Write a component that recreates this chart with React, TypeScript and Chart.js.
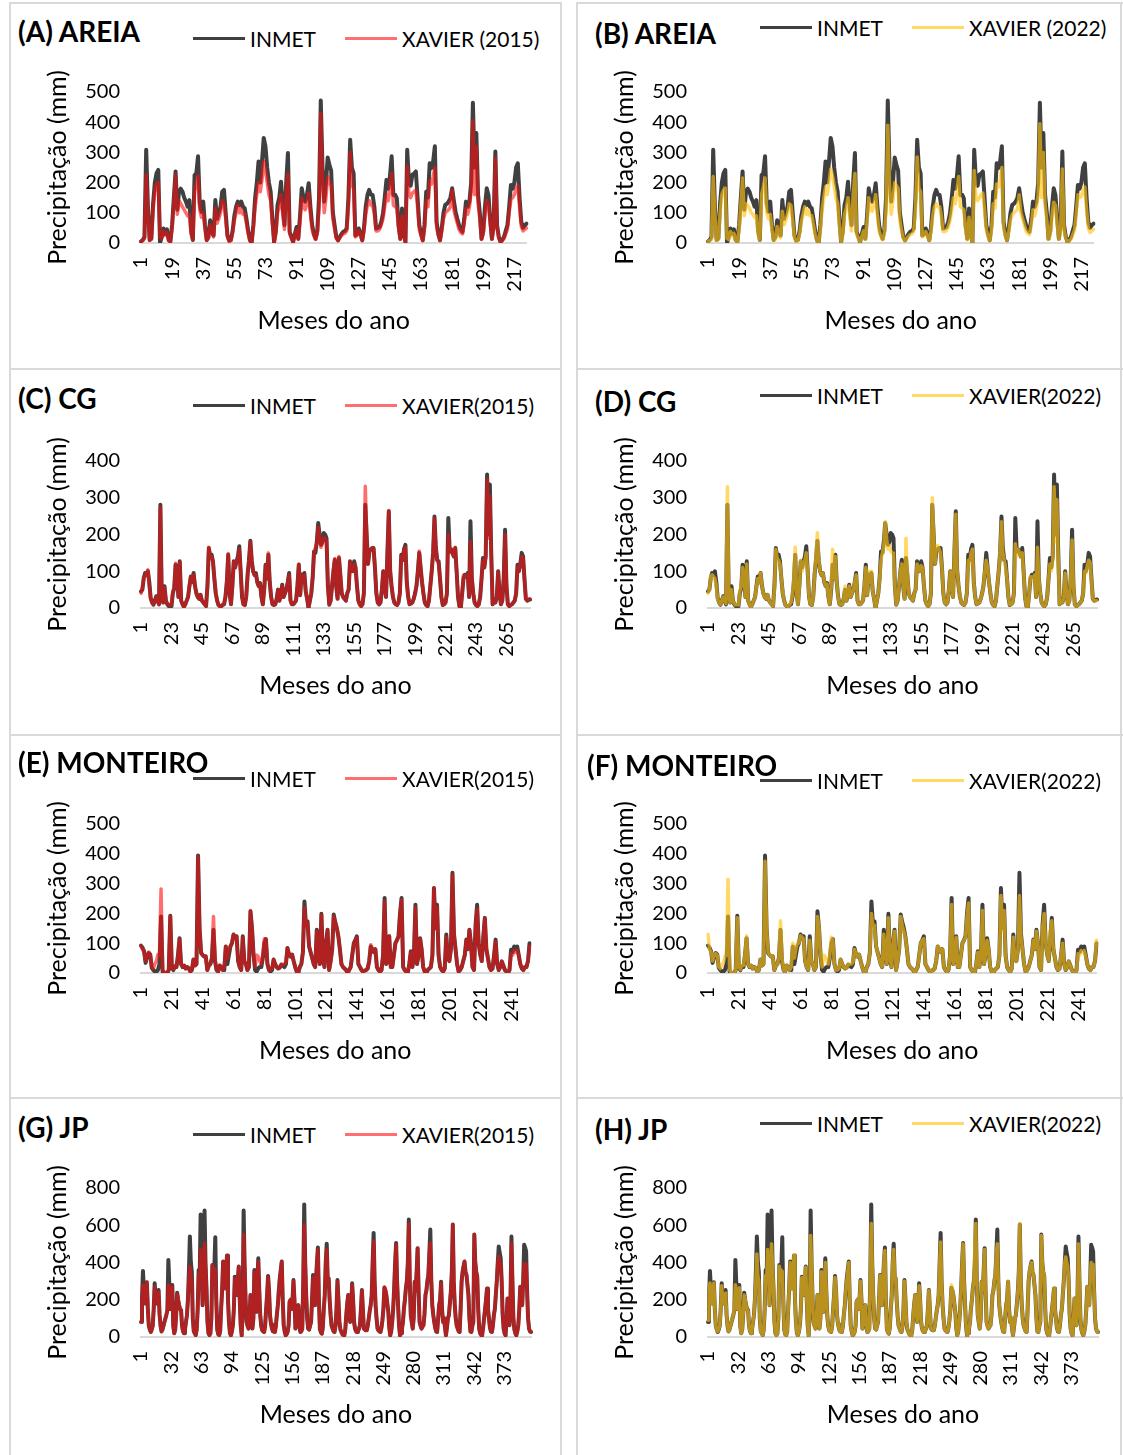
import { useEffect, useRef } from "react";
import { Chart, registerables } from "chart.js";

Chart.register(...registerables);

const FONT = "Lato, 'Open Sans', 'DejaVu Sans', sans-serif";

// ---------------- DATA (mm per month) ----------------
const areiaInmet = [
  5, 10, 20, 309, 120, 10, 15, 130, 200, 231, 242, 0,
  20, 48, 30, 45, 10, 5, 60, 150, 237, 110, 170, 180,
  170, 150, 137, 120, 142, 40, 10, 225, 231, 287, 130, 103,
  137, 60, 10, 20, 75, 40, 25, 142, 80, 100, 120, 170,
  176, 100, 25, 8, 10, 40, 90, 120, 137, 125, 137, 120,
  115, 80, 40, 10, 0, 60, 148, 200, 270, 200, 270, 348,
  320, 250, 200, 170, 80, 3, 40, 126, 150, 203, 120, 59,
  200, 298, 37, 20, 3, 30, 53, 14, 90, 181, 150, 137,
  160, 198, 120, 59, 30, 14, 40, 150, 472, 250, 137, 200,
  283, 259, 240, 100, 59, 20, 9, 20, 30, 37, 40, 48,
  150, 342, 250, 231, 25, 30, 48, 30, 9, 50, 120, 159,
  176, 160, 159, 120, 48, 50, 53, 70, 98, 150, 209, 180,
  220, 287, 159, 160, 148, 60, 14, 114, 30, 3, 309, 203,
  190, 226, 230, 237, 150, 59, 30, 9, 60, 170, 150, 264,
  248, 270, 320, 70, 30, 9, 50, 100, 126, 130, 137, 150,
  181, 140, 103, 80, 59, 45, 37, 80, 137, 120, 137, 200,
  464, 250, 364, 159, 100, 14, 40, 120, 181, 159, 80, 14,
  60, 303, 59, 20, 3, 10, 20, 40, 59, 120, 192, 180,
  200, 250, 264, 150, 70, 50, 59, 64,
];
const areiaXavier2015 = [
  5, 8, 15, 225, 100, 8, 12, 110, 170, 195, 200, 20,
  15, 40, 25, 35, 8, 5, 50, 130, 225, 95, 140, 130,
  120, 110, 100, 90, 95, 30, 10, 170, 195, 222, 110, 85,
  100, 50, 8, 15, 60, 30, 20, 115, 65, 80, 100, 140,
  130, 80, 20, 5, 8, 35, 75, 100, 125, 100, 115, 95,
  95, 65, 30, 8, 0, 50, 120, 160, 200, 170, 210, 270,
  240, 200, 160, 140, 65, 3, 30, 100, 120, 160, 95, 45,
  165, 228, 30, 15, 3, 25, 42, 12, 75, 150, 120, 110,
  130, 165, 95, 45, 25, 12, 30, 120, 430, 200, 100, 150,
  220, 200, 190, 80, 45, 15, 8, 18, 25, 30, 32, 40,
  120, 300, 190, 180, 20, 25, 40, 25, 8, 40, 95, 125,
  140, 125, 125, 95, 40, 40, 45, 60, 80, 120, 160, 140,
  180, 230, 125, 120, 115, 50, 12, 90, 25, 3, 255, 160,
  150, 165, 170, 175, 120, 45, 25, 8, 45, 140, 120, 205,
  195, 220, 250, 55, 25, 8, 40, 80, 100, 105, 110, 120,
  175, 110, 85, 65, 45, 35, 30, 65, 115, 95, 120, 170,
  405, 160, 320, 130, 80, 12, 30, 95, 140, 130, 65, 12,
  45, 280, 50, 15, 3, 8, 15, 30, 45, 100, 145, 150,
  160, 180, 190, 120, 55, 40, 45, 50,
];
const areiaXavier2022 = [
  5, 8, 12, 220, 95, 8, 12, 100, 160, 175, 182, 15,
  12, 38, 22, 32, 8, 5, 45, 125, 215, 90, 130, 125,
  115, 100, 95, 85, 90, 28, 10, 160, 185, 215, 100, 80,
  95, 45, 8, 12, 55, 28, 18, 105, 60, 75, 95, 130,
  125, 75, 18, 5, 8, 30, 70, 95, 120, 95, 110, 90,
  90, 60, 28, 8, 0, 45, 110, 150, 185, 160, 200, 245,
  225, 190, 150, 130, 60, 3, 28, 95, 115, 150, 90, 40,
  160, 230, 28, 15, 3, 22, 40, 12, 70, 150, 115, 105,
  125, 160, 90, 40, 22, 10, 28, 110, 390, 190, 95, 145,
  200, 190, 180, 75, 40, 15, 8, 15, 22, 28, 30, 38,
  110, 285, 180, 170, 20, 25, 38, 22, 8, 38, 90, 120,
  130, 120, 120, 90, 38, 38, 42, 55, 75, 110, 150, 130,
  170, 220, 120, 115, 110, 45, 10, 85, 22, 3, 240, 150,
  140, 150, 160, 165, 110, 42, 22, 8, 40, 130, 115, 195,
  185, 210, 250, 52, 22, 8, 38, 75, 95, 100, 105, 110,
  160, 100, 80, 60, 40, 32, 28, 60, 110, 90, 115, 160,
  395, 150, 300, 125, 75, 12, 28, 90, 135, 125, 60, 12,
  40, 245, 45, 15, 3, 8, 12, 28, 42, 95, 160, 150,
  155, 175, 185, 110, 50, 35, 40, 45,
];

const cgInmet = [
  45, 50, 82, 95, 90, 100, 70, 27, 15, 9, 20, 32,
  20, 10, 281, 30, 15, 59, 20, 10, 5, 8, 5, 40,
  54, 118, 90, 30, 127, 20, 10, 3, 10, 20, 30, 60,
  86, 70, 95, 60, 40, 30, 25, 36, 20, 15, 10, 5,
  60, 163, 140, 145, 127, 80, 40, 20, 8, 5, 5, 8,
  10, 30, 70, 145, 40, 10, 60, 127, 110, 127, 140, 168,
  100, 30, 10, 8, 30, 91, 130, 183, 130, 100, 90, 95,
  70, 60, 68, 30, 10, 50, 118, 80, 145, 70, 30, 10,
  8, 10, 25, 50, 20, 35, 63, 30, 40, 50, 70, 95,
  20, 10, 10, 15, 20, 60, 118, 35, 91, 70, 95, 45,
  25, 0, 20, 40, 82, 154, 150, 180, 231, 200, 172, 180,
  204, 200, 190, 60, 9, 20, 60, 100, 131, 60, 25, 136,
  90, 40, 30, 25, 20, 40, 50, 127, 110, 100, 127, 110,
  60, 20, 10, 5, 10, 40, 281, 200, 120, 154, 160, 163,
  163, 110, 40, 15, 10, 15, 50, 100, 60, 30, 150, 263,
  100, 60, 30, 15, 10, 8, 15, 40, 145, 130, 160, 172,
  70, 30, 10, 12, 15, 25, 40, 60, 100, 150, 110, 70,
  40, 15, 8, 5, 20, 60, 100, 150, 249, 163, 130, 127,
  80, 30, 8, 10, 15, 40, 245, 154, 160, 150, 140, 163,
  100, 30, 5, 0, 40, 82, 90, 85, 95, 30, 236, 80,
  40, 15, 8, 5, 10, 30, 80, 136, 110, 140, 363, 200,
  336, 150, 10, 20, 15, 30, 100, 40, 10, 20, 80, 213,
  60, 10, 5, 8, 10, 15, 20, 40, 118, 100, 120, 150,
  140, 80, 25, 20, 22, 23,
];
const cgXavier2015 = [
  40, 55, 80, 90, 95, 104, 60, 25, 15, 10, 18, 30,
  18, 10, 275, 30, 15, 55, 20, 12, 8, 10, 8, 45,
  55, 122, 90, 30, 125, 20, 10, 3, 10, 20, 30, 60,
  85, 70, 90, 60, 40, 30, 25, 36, 20, 15, 10, 5,
  55, 165, 140, 140, 125, 80, 40, 20, 8, 5, 5, 10,
  12, 30, 75, 148, 40, 10, 55, 125, 110, 130, 135, 160,
  100, 30, 10, 8, 30, 85, 125, 180, 125, 100, 90, 90,
  70, 60, 65, 30, 10, 50, 115, 80, 150, 70, 30, 10,
  8, 10, 25, 50, 20, 35, 60, 30, 40, 50, 70, 90,
  20, 10, 10, 15, 20, 60, 120, 35, 90, 70, 90, 45,
  25, 0, 20, 40, 85, 150, 165, 175, 220, 195, 165, 175,
  190, 190, 180, 60, 9, 20, 60, 100, 135, 60, 25, 140,
  90, 40, 30, 25, 20, 40, 50, 125, 110, 100, 120, 110,
  60, 20, 10, 5, 10, 40, 331, 200, 120, 154, 160, 163,
  163, 110, 40, 15, 10, 15, 50, 100, 60, 30, 150, 265,
  100, 60, 30, 15, 10, 8, 15, 40, 140, 130, 160, 165,
  70, 30, 10, 12, 15, 25, 40, 60, 100, 155, 110, 70,
  40, 15, 8, 5, 20, 60, 100, 150, 245, 160, 130, 120,
  80, 30, 8, 10, 15, 40, 200, 150, 160, 150, 140, 165,
  100, 30, 5, 0, 40, 90, 85, 85, 90, 30, 180, 80,
  40, 15, 8, 5, 10, 30, 80, 130, 110, 140, 350, 190,
  305, 140, 10, 20, 15, 30, 100, 40, 10, 20, 80, 200,
  60, 10, 5, 8, 10, 15, 20, 40, 110, 100, 120, 140,
  135, 80, 25, 20, 25, 25,
];
const cgXavier2022 = [
  40, 50, 85, 90, 85, 80, 60, 25, 15, 10, 20, 30,
  20, 12, 330, 35, 15, 50, 20, 12, 8, 10, 8, 45,
  60, 110, 85, 30, 120, 20, 10, 3, 10, 20, 30, 60,
  80, 70, 95, 60, 40, 30, 25, 36, 20, 15, 10, 5,
  55, 160, 135, 130, 120, 80, 40, 20, 8, 5, 5, 10,
  15, 35, 80, 165, 40, 10, 55, 130, 100, 120, 130, 150,
  100, 30, 10, 8, 30, 90, 140, 205, 130, 100, 90, 95,
  70, 60, 65, 30, 10, 55, 160, 80, 140, 70, 30, 10,
  8, 10, 25, 60, 20, 35, 60, 30, 40, 50, 70, 90,
  20, 10, 10, 15, 20, 60, 110, 35, 100, 70, 100, 45,
  25, 0, 20, 40, 80, 130, 150, 170, 235, 190, 160, 170,
  155, 150, 150, 60, 9, 20, 60, 100, 120, 60, 25, 190,
  90, 40, 30, 25, 20, 40, 50, 120, 110, 100, 115, 110,
  60, 20, 10, 5, 10, 40, 300, 200, 120, 165, 170, 160,
  150, 110, 40, 15, 10, 15, 50, 100, 60, 30, 150, 255,
  100, 60, 30, 15, 10, 8, 15, 40, 130, 120, 150, 160,
  70, 30, 10, 12, 15, 25, 40, 60, 100, 130, 110, 70,
  40, 15, 8, 5, 20, 60, 100, 150, 235, 150, 130, 110,
  80, 30, 8, 10, 15, 40, 175, 140, 160, 150, 140, 150,
  100, 30, 5, 0, 40, 85, 85, 80, 90, 30, 165, 80,
  40, 15, 8, 5, 10, 30, 80, 120, 100, 130, 330, 180,
  295, 130, 10, 20, 15, 30, 95, 40, 10, 20, 80, 185,
  60, 10, 5, 8, 10, 15, 20, 40, 100, 95, 115, 130,
  125, 75, 25, 20, 20, 20,
];

const monteiroInmet = [
  92, 85, 73, 34, 55, 67, 62, 17, 10, 5, 5, 10,
  30, 190, 5, 2, 0, 0, 10, 192, 17, 10, 22, 20,
  60, 117, 30, 20, 25, 15, 20, 15, 5, 10, 45, 25,
  30, 394, 150, 67, 60, 55, 56, 10, 25, 30, 50, 145,
  40, 10, 5, 25, 20, 10, 10, 89, 30, 60, 89, 100,
  129, 120, 123, 40, 20, 10, 123, 40, 30, 10, 20, 207,
  150, 60, 10, 5, 15, 20, 20, 50, 100, 114, 30, 10,
  5, 10, 45, 30, 20, 15, 18, 28, 25, 20, 30, 84,
  62, 55, 62, 40, 20, 5, 0, 20, 30, 70, 240, 160,
  173, 90, 70, 50, 30, 20, 145, 60, 30, 199, 50, 20,
  100, 145, 10, 40, 80, 196, 170, 151, 123, 80, 30, 20,
  15, 10, 0, 10, 20, 60, 100, 110, 123, 30, 20, 10,
  5, 8, 10, 15, 40, 89, 80, 70, 80, 20, 10, 5,
  10, 60, 252, 30, 40, 123, 20, 20, 60, 100, 110, 123,
  200, 252, 20, 10, 5, 0, 30, 73, 20, 60, 229, 30,
  60, 117, 80, 20, 5, 0, 10, 15, 20, 60, 285, 150,
  229, 60, 20, 10, 5, 15, 129, 50, 40, 80, 336, 130,
  80, 30, 5, 10, 20, 40, 60, 112, 80, 145, 100, 20,
  10, 162, 229, 100, 62, 40, 120, 185, 80, 50, 20, 10,
  15, 60, 112, 30, 10, 20, 39, 25, 10, 5, 0, 10,
  78, 70, 89, 80, 89, 60, 30, 15, 10, 20, 20, 40, 100,
];
const monteiroXavier2015 = [
  90, 80, 70, 40, 60, 70, 60, 20, 15, 30, 40, 62,
  60, 282, 10, 2, 0, 0, 10, 190, 20, 12, 25, 22,
  60, 115, 30, 20, 25, 15, 20, 15, 5, 10, 45, 25,
  30, 390, 150, 70, 60, 55, 56, 10, 25, 30, 50, 190,
  50, 10, 5, 25, 20, 10, 20, 89, 50, 80, 89, 100,
  129, 120, 123, 40, 20, 10, 120, 40, 30, 10, 20, 210,
  150, 60, 20, 60, 55, 40, 30, 60, 115, 114, 30, 10,
  10, 15, 45, 30, 20, 15, 18, 28, 30, 30, 35, 85,
  62, 55, 62, 40, 20, 5, 0, 20, 30, 70, 220, 155,
  170, 90, 70, 50, 30, 20, 140, 60, 30, 195, 50, 20,
  100, 145, 10, 40, 80, 190, 170, 150, 123, 80, 30, 20,
  15, 10, 0, 10, 20, 60, 95, 110, 120, 30, 20, 10,
  5, 8, 10, 15, 40, 95, 80, 70, 80, 20, 10, 5,
  10, 60, 240, 30, 40, 125, 20, 20, 60, 100, 110, 120,
  200, 245, 20, 10, 5, 0, 30, 70, 20, 60, 220, 30,
  60, 115, 80, 20, 5, 0, 10, 15, 20, 60, 285, 150,
  220, 60, 20, 10, 5, 15, 120, 50, 40, 80, 330, 130,
  80, 30, 5, 10, 20, 40, 60, 110, 80, 145, 100, 20,
  10, 150, 215, 100, 62, 40, 120, 185, 80, 50, 20, 10,
  15, 60, 105, 30, 10, 20, 39, 25, 10, 5, 0, 10,
  65, 60, 75, 70, 75, 55, 30, 15, 10, 20, 20, 40, 90,
];
const monteiroXavier2022 = [
  130, 80, 70, 40, 60, 65, 60, 20, 15, 25, 35, 55,
  60, 315, 10, 2, 0, 0, 10, 185, 20, 12, 25, 25,
  60, 125, 30, 20, 25, 15, 20, 15, 5, 10, 45, 25,
  30, 375, 150, 70, 60, 55, 56, 10, 25, 30, 50, 175,
  50, 10, 5, 25, 20, 10, 20, 100, 50, 80, 100, 100,
  125, 120, 115, 40, 20, 10, 110, 40, 30, 10, 20, 190,
  150, 60, 20, 60, 55, 40, 30, 60, 120, 110, 30, 10,
  10, 15, 45, 30, 20, 15, 18, 28, 30, 30, 35, 80,
  62, 55, 62, 40, 20, 5, 0, 20, 30, 70, 200, 150,
  160, 90, 70, 50, 30, 20, 130, 60, 30, 185, 50, 20,
  100, 140, 10, 40, 80, 190, 160, 140, 120, 80, 30, 20,
  15, 10, 0, 10, 20, 60, 100, 110, 115, 30, 20, 10,
  5, 8, 10, 15, 40, 90, 80, 70, 80, 20, 10, 5,
  10, 60, 230, 30, 40, 120, 20, 20, 60, 100, 110, 120,
  190, 235, 20, 10, 5, 0, 30, 70, 20, 60, 210, 30,
  60, 110, 80, 20, 5, 0, 10, 15, 20, 60, 260, 140,
  210, 60, 20, 10, 5, 15, 120, 50, 40, 80, 260, 120,
  80, 30, 5, 10, 20, 40, 60, 110, 80, 140, 100, 20,
  10, 150, 200, 100, 62, 40, 140, 175, 80, 50, 20, 10,
  15, 60, 100, 30, 10, 20, 39, 25, 10, 5, 0, 10,
  65, 60, 75, 70, 75, 55, 30, 15, 10, 20, 20, 40, 110,
];

const jpInmet = [
  81, 200, 355, 250, 180, 230, 294, 150, 60, 40,
  27, 40, 60, 150, 288, 200, 180, 230, 252, 120,
  60, 30, 40, 60, 81, 100, 120, 144, 414, 280,
  150, 200, 279, 60, 20, 40, 120, 238, 200, 171,
  150, 144, 60, 30, 20, 40, 80, 117, 200, 350,
  540, 400, 351, 100, 30, 20, 10, 40, 150, 360,
  300, 658, 400, 171, 300, 679, 400, 260, 80, 20,
  10, 20, 100, 387, 300, 369, 535, 200, 40, 15,
  10, 30, 153, 250, 405, 300, 261, 350, 438, 200,
  81, 20, 9, 30, 63, 150, 324, 250, 225, 300,
  378, 200, 63, 9, 150, 679, 387, 200, 81, 60,
  45, 100, 225, 120, 45, 100, 360, 200, 135, 300,
  423, 250, 117, 60, 36, 30, 27, 60, 150, 225,
  328, 250, 117, 70, 45, 30, 30, 27, 60, 120,
  171, 250, 315, 360, 405, 200, 63, 30, 9, 15,
  27, 60, 189, 200, 150, 200, 306, 200, 45, 80,
  150, 171, 60, 27, 30, 45, 300, 712, 400, 225,
  100, 45, 40, 60, 81, 200, 333, 250, 171, 300,
  400, 481, 200, 45, 25, 18, 50, 150, 225, 400,
  501, 315, 315, 200, 117, 60, 45, 30, 27, 60,
  150, 306, 200, 81, 40, 27, 15, 10, 9, 40,
  117, 180, 225, 150, 81, 150, 288, 200, 80, 45,
  30, 27, 30, 45, 63, 150, 252, 150, 45, 40,
  36, 36, 60, 99, 140, 171, 225, 400, 559, 300,
  171, 100, 45, 35, 30, 27, 50, 90, 150, 265,
  250, 225, 180, 135, 50, 9, 30, 81, 150, 261,
  400, 505, 300, 171, 60, 9, 20, 45, 80, 153,
  200, 261, 300, 400, 631, 300, 117, 80, 45, 100,
  297, 250, 350, 477, 250, 81, 60, 45, 55, 63,
  120, 225, 250, 300, 333, 450, 577, 300, 171, 120,
  81, 50, 30, 27, 100, 171, 200, 297, 150, 81,
  99, 50, 9, 50, 100, 117, 180, 243, 350, 604,
  300, 171, 100, 60, 45, 30, 27, 150, 297, 350,
  380, 405, 350, 333, 280, 225, 100, 30, 27, 60,
  81, 550, 400, 350, 324, 150, 45, 20, 10, 9,
  50, 99, 150, 200, 261, 150, 99, 50, 30, 27,
  60, 117, 150, 225, 300, 400, 486, 450, 423, 300,
  120, 45, 20, 9, 100, 207, 100, 63, 200, 540,
  300, 99, 40, 20, 9, 30, 63, 150, 270, 230,
  171, 300, 495, 480, 459, 250, 100, 45, 30, 27,
];
const jpXavier2015 = [
  81, 200, 279, 250, 180, 230, 294, 150, 60, 40,
  27, 40, 60, 150, 270, 200, 180, 230, 240, 120,
  60, 30, 40, 60, 81, 100, 120, 144, 279, 250,
  150, 200, 270, 60, 20, 40, 120, 230, 200, 171,
  150, 144, 60, 30, 20, 40, 80, 117, 200, 300,
  378, 330, 300, 100, 30, 20, 10, 40, 150, 333,
  300, 468, 350, 171, 300, 505, 380, 260, 80, 20,
  10, 20, 100, 387, 300, 369, 355, 200, 40, 15,
  10, 30, 153, 250, 405, 300, 261, 350, 438, 200,
  81, 20, 9, 30, 63, 150, 315, 250, 225, 300,
  378, 200, 63, 9, 150, 550, 387, 200, 81, 60,
  45, 100, 225, 120, 45, 100, 350, 200, 135, 300,
  405, 250, 117, 60, 36, 30, 27, 60, 150, 225,
  320, 250, 117, 70, 45, 30, 30, 27, 60, 120,
  171, 250, 315, 360, 405, 200, 63, 30, 9, 15,
  27, 60, 189, 200, 150, 200, 300, 200, 45, 80,
  150, 171, 60, 27, 30, 45, 300, 604, 400, 225,
  100, 45, 40, 60, 81, 200, 320, 250, 171, 300,
  400, 468, 200, 45, 25, 18, 50, 150, 225, 400,
  468, 315, 315, 200, 117, 60, 45, 30, 27, 60,
  150, 300, 200, 81, 40, 27, 15, 10, 9, 40,
  117, 180, 225, 150, 81, 150, 280, 200, 80, 45,
  30, 27, 30, 45, 63, 150, 250, 150, 45, 40,
  36, 36, 60, 99, 140, 171, 225, 400, 514, 300,
  171, 100, 45, 35, 30, 27, 50, 90, 150, 270,
  260, 225, 180, 135, 50, 9, 30, 81, 150, 261,
  400, 495, 300, 171, 60, 9, 20, 45, 80, 153,
  200, 261, 300, 400, 607, 300, 117, 80, 45, 100,
  297, 250, 350, 477, 250, 81, 60, 45, 55, 63,
  120, 225, 250, 300, 333, 450, 505, 300, 171, 120,
  81, 50, 30, 27, 100, 171, 200, 290, 150, 81,
  99, 50, 9, 50, 100, 117, 180, 243, 350, 604,
  300, 171, 100, 60, 45, 30, 27, 150, 297, 350,
  380, 405, 350, 333, 280, 225, 100, 30, 27, 60,
  81, 550, 400, 350, 324, 150, 45, 20, 10, 9,
  50, 99, 150, 200, 261, 150, 99, 50, 30, 27,
  60, 117, 150, 225, 300, 400, 432, 400, 390, 300,
  120, 45, 20, 9, 100, 207, 100, 63, 200, 505,
  300, 99, 40, 20, 9, 30, 63, 150, 270, 230,
  171, 300, 396, 380, 390, 250, 100, 45, 30, 27,
];
const jpXavier2022 = [
  90, 200, 290, 250, 180, 230, 290, 150, 60, 40,
  30, 45, 60, 150, 275, 200, 180, 220, 235, 120,
  60, 30, 40, 60, 85, 100, 120, 150, 280, 250,
  150, 200, 265, 60, 20, 40, 120, 225, 200, 170,
  150, 140, 60, 30, 20, 40, 80, 120, 200, 310,
  445, 330, 300, 100, 30, 20, 10, 40, 150, 330,
  300, 470, 350, 171, 300, 500, 380, 260, 80, 20,
  10, 20, 100, 380, 300, 360, 350, 200, 40, 15,
  10, 30, 150, 250, 400, 300, 261, 350, 440, 200,
  81, 20, 9, 30, 63, 150, 320, 250, 225, 330,
  375, 200, 63, 9, 150, 545, 380, 200, 81, 60,
  45, 100, 225, 120, 45, 100, 350, 200, 135, 300,
  400, 250, 117, 60, 36, 30, 27, 60, 150, 225,
  320, 250, 117, 70, 45, 30, 30, 27, 60, 120,
  171, 250, 300, 350, 400, 200, 63, 30, 9, 15,
  27, 60, 189, 200, 150, 200, 300, 200, 45, 80,
  150, 171, 60, 27, 30, 45, 300, 610, 400, 225,
  100, 45, 40, 60, 81, 200, 330, 250, 171, 300,
  400, 465, 200, 45, 25, 18, 50, 150, 225, 400,
  470, 315, 315, 200, 117, 60, 45, 30, 27, 60,
  150, 300, 200, 81, 40, 27, 15, 10, 9, 40,
  117, 180, 225, 150, 81, 150, 275, 200, 80, 45,
  30, 27, 30, 45, 63, 150, 250, 150, 45, 40,
  36, 36, 60, 99, 140, 171, 225, 400, 510, 300,
  171, 100, 45, 35, 30, 27, 50, 90, 150, 280,
  260, 225, 180, 135, 50, 9, 30, 81, 150, 261,
  400, 500, 300, 171, 60, 9, 20, 45, 80, 153,
  200, 261, 300, 480, 610, 300, 117, 80, 45, 100,
  297, 250, 350, 470, 250, 81, 60, 45, 55, 63,
  120, 225, 250, 300, 333, 450, 500, 300, 171, 120,
  81, 50, 30, 27, 100, 171, 200, 300, 150, 81,
  99, 50, 9, 50, 100, 117, 180, 243, 350, 610,
  300, 171, 100, 60, 45, 30, 27, 150, 297, 350,
  380, 400, 350, 333, 280, 225, 100, 30, 27, 60,
  81, 545, 400, 350, 324, 150, 45, 20, 10, 9,
  50, 99, 150, 200, 261, 150, 99, 50, 30, 27,
  60, 117, 150, 225, 300, 400, 430, 400, 380, 300,
  120, 45, 20, 9, 100, 207, 100, 63, 200, 500,
  300, 99, 40, 20, 9, 30, 63, 150, 270, 230,
  171, 300, 400, 380, 390, 250, 100, 45, 30, 27,
];

// axis settings
const areiaYMax = 500, areiaYStep = 100, areiaXLabelEvery = 18;
const cgYMax = 400, cgYStep = 100, cgXLabelEvery = 22;
const monteiroYMax = 500, monteiroYStep = 100, monteiroXLabelEvery = 20;
const jpYMax = 800, jpYStep = 200, jpXLabelEvery = 31;

const INMET_COLOR = "#404040";
const RED = "rgba(255, 14, 14, 0.6)";
const GOLD = "rgba(255, 193, 13, 0.63)";
const RED_SOLID = "#ff6f6f";
const GOLD_SOLID = "#ffd966";

type Panel = {
  title: string;
  xavierLabel: string;
  inmet: number[];
  xavier: number[];
  color: string;
  legendColor: string;
  yMax: number;
  yStep: number;
  every: number;
  cellLeft: number;
  plotLeft: number;
  plotRight: number;
  yTop: number;
  yZero: number;
  xTitleY: number;
  yTitleX: number;
  titleX: number;
  titleY: number;
  legendY: number;
  legendX: number;
};

const L = 12, R = 579;
const panels: Panel[] = [
  { title: "(A) AREIA", xavierLabel: "XAVIER (2015)", inmet: areiaInmet, xavier: areiaXavier2015, color: RED, legendColor: RED_SOLID, yMax: areiaYMax, yStep: areiaYStep, every: areiaXLabelEvery,
    cellLeft: L, plotLeft: 141, plotRight: 533, yTop: 92, yZero: 243, xTitleY: 321, yTitleX: 58, titleX: 18, titleY: 31, legendY: 38, legendX: 193 },
  { title: "(B) AREIA", xavierLabel: "XAVIER (2022)", inmet: areiaInmet, xavier: areiaXavier2022, color: GOLD, legendColor: GOLD_SOLID, yMax: areiaYMax, yStep: areiaYStep, every: areiaXLabelEvery,
    cellLeft: R, plotLeft: 708, plotRight: 1100, yTop: 92, yZero: 243, xTitleY: 321, yTitleX: 625, titleX: 595, titleY: 33, legendY: 27, legendX: 760 },
  { title: "(C) CG", xavierLabel: "XAVIER(2015)", inmet: cgInmet, xavier: cgXavier2015, color: RED, legendColor: RED_SOLID, yMax: cgYMax, yStep: cgYStep, every: cgXLabelEvery,
    cellLeft: L, plotLeft: 141, plotRight: 530, yTop: 461, yZero: 608, xTitleY: 686, yTitleX: 58, titleX: 18, titleY: 398, legendY: 405, legendX: 193 },
  { title: "(D) CG", xavierLabel: "XAVIER(2022)", inmet: cgInmet, xavier: cgXavier2022, color: GOLD, legendColor: GOLD_SOLID, yMax: cgYMax, yStep: cgYStep, every: cgXLabelEvery,
    cellLeft: R, plotLeft: 708, plotRight: 1097, yTop: 461, yZero: 608, xTitleY: 686, yTitleX: 625, titleX: 595, titleY: 401, legendY: 395, legendX: 760 },
  { title: "(E) MONTEIRO", xavierLabel: "XAVIER(2015)", inmet: monteiroInmet, xavier: monteiroXavier2015, color: RED, legendColor: RED_SOLID, yMax: monteiroYMax, yStep: monteiroYStep, every: monteiroXLabelEvery,
    cellLeft: L, plotLeft: 141, plotRight: 530, yTop: 824, yZero: 973, xTitleY: 1051, yTitleX: 58, titleX: 18, titleY: 762, legendY: 778, legendX: 193 },
  { title: "(F) MONTEIRO", xavierLabel: "XAVIER(2022)", inmet: monteiroInmet, xavier: monteiroXavier2022, color: GOLD, legendColor: GOLD_SOLID, yMax: monteiroYMax, yStep: monteiroYStep, every: monteiroXLabelEvery,
    cellLeft: R, plotLeft: 708, plotRight: 1097, yTop: 824, yZero: 973, xTitleY: 1051, yTitleX: 625, titleX: 587, titleY: 765, legendY: 780, legendX: 760 },
  { title: "(G) JP", xavierLabel: "XAVIER(2015)", inmet: jpInmet, xavier: jpXavier2015, color: RED, legendColor: RED_SOLID, yMax: jpYMax, yStep: jpYStep, every: jpXLabelEvery,
    cellLeft: L, plotLeft: 141, plotRight: 531, yTop: 1188, yZero: 1337, xTitleY: 1415, yTitleX: 58, titleX: 18, titleY: 1127, legendY: 1134, legendX: 193 },
  { title: "(H) JP", xavierLabel: "XAVIER(2022)", inmet: jpInmet, xavier: jpXavier2022, color: GOLD, legendColor: GOLD_SOLID, yMax: jpYMax, yStep: jpYStep, every: jpXLabelEvery,
    cellLeft: R, plotLeft: 708, plotRight: 1098, yTop: 1188, yZero: 1337, xTitleY: 1415, yTitleX: 625, titleX: 595, titleY: 1129, legendY: 1123, legendX: 760 },
];

const TICK_FONT = 20;
const AXIS_TITLE_FONT = 25;

function PanelChart({ p }: { p: Panel }) {
  const ref = useRef<HTMLCanvasElement | null>(null);
  const padTop = 40;
  const padRight = 20;
  const canvasTop = p.yTop - padTop;
  const bottomEdge = p.xTitleY + 25;
  const width = p.plotRight + padRight - p.cellLeft;
  const height = bottomEdge - canvasTop;
  const yAxisWidth = p.plotLeft - p.cellLeft;
  const xAxisHeight = bottomEdge - p.yZero;
  const lh = AXIS_TITLE_FONT * 1.2;

  useEffect(() => {
    if (!ref.current) return;
    const labels = p.inmet.map((_, i) => String(i + 1));
    const chart = new Chart(ref.current, {
      type: "line",
      data: {
        labels,
        datasets: [
          { label: p.xavierLabel, data: p.xavier, borderColor: p.color, backgroundColor: p.color, borderWidth: 3.5, borderJoinStyle: "round", borderCapStyle: "round", pointRadius: 0, tension: 0, order: 0 },
          { label: "INMET", data: p.inmet, borderColor: INMET_COLOR, backgroundColor: INMET_COLOR, borderWidth: 4, borderJoinStyle: "round", borderCapStyle: "round", pointRadius: 0, tension: 0, order: 1 },
        ],
      },
      options: {
        responsive: false,
        animation: false,
        devicePixelRatio: 1,
        layout: { padding: { top: padTop, right: padRight, left: 0, bottom: 0 } },
        plugins: { legend: { display: false }, tooltip: { enabled: false }, title: { display: false } },
        scales: {
          x: {
            type: "category",
            offset: false,
            grid: { display: false, drawTicks: false },
            border: { display: true, color: "#d9d9d9", width: 2 },
            ticks: {
              autoSkip: false,
              minRotation: 90,
              maxRotation: 90,
              padding: 14,
              color: "#000",
              font: { family: FONT, size: TICK_FONT },
              callback: (_v: any, i: number) => (i % p.every === 0 ? labels[i] : null),
            },
            title: {
              display: true,
              text: "Meses do ano",
              color: "#000",
              font: { family: FONT, size: AXIS_TITLE_FONT },
              padding: { top: 0, bottom: 25 - lh / 2 },
            },
            afterFit: (s: any) => { s.height = xAxisHeight; },
          },
          y: {
            min: 0,
            max: p.yMax,
            grid: { display: false, drawTicks: false },
            border: { display: false },
            ticks: { stepSize: p.yStep, padding: 21, color: "#000", font: { family: FONT, size: TICK_FONT } },
            title: {
              display: true,
              text: "Precipitação (mm)",
              color: "#000",
              font: { family: FONT, size: AXIS_TITLE_FONT },
              padding: { top: p.yTitleX - p.cellLeft - lh / 2, bottom: 0 },
            },
            afterFit: (s: any) => { s.width = yAxisWidth; },
          },
        },
      },
    } as any);
    return () => chart.destroy();
  }, []);

  return (
    <canvas
      ref={ref}
      width={width}
      height={height}
      style={{ position: "absolute", left: p.cellLeft, top: canvasTop, width, height }}
    />
  );
}

function Overlay({ p }: { p: Panel }) {
  const lineW = 52;
  const textStyle: any = {
    position: "absolute",
    top: p.legendY,
    transform: "translateY(-50%)",
    font: `21px ${FONT}`,
    color: "#000",
    whiteSpace: "nowrap",
    lineHeight: 1,
  };
  return (
    <>
      <div style={{ position: "absolute", left: p.legendX, top: p.legendY - 1.5, width: lineW, height: 3, background: INMET_COLOR }} />
      <div style={{ ...textStyle, left: p.legendX + lineW + 5 }}>INMET</div>
      <div style={{ position: "absolute", left: p.legendX + 152, top: p.legendY - 1.5, width: lineW, height: 3, background: p.legendColor }} />
      <div style={{ ...textStyle, left: p.legendX + 152 + lineW + 5 }}>{p.xavierLabel}</div>
      <div
        style={{
          position: "absolute",
          left: p.titleX,
          top: p.titleY,
          transform: "translateY(-50%)",
          font: `bold 28px ${FONT}`,
          color: "#000",
          whiteSpace: "nowrap",
          lineHeight: 1,
        }}
      >
        {p.title}
      </div>
    </>
  );
}

const BORDER = "#d9d9d9";

export default function App() {
  const hLines = [3, 369, 735, 1098];
  return (
    <div style={{ position: "absolute", left: 0, top: 0, width: 1123, height: 1455, background: "#fff", overflow: "hidden", fontFamily: FONT }}>
      {[10, 561, 577, 1121].map((x) => (
        <div key={"v" + x} style={{ position: "absolute", left: x - 1, top: 3, width: 2, height: 1452, background: BORDER }} />
      ))}
      {hLines.map((y) => (
        <div key={"hl" + y}>
          <div style={{ position: "absolute", left: 9, top: y - 1, width: 553, height: 2, background: BORDER }} />
          <div style={{ position: "absolute", left: 576, top: y - 1, width: 547, height: 2, background: BORDER }} />
        </div>
      ))}
      {panels.map((p, i) => (
        <PanelChart key={"c" + i} p={p} />
      ))}
      {panels.map((p, i) => (
        <Overlay key={"o" + i} p={p} />
      ))}
    </div>
  );
}
